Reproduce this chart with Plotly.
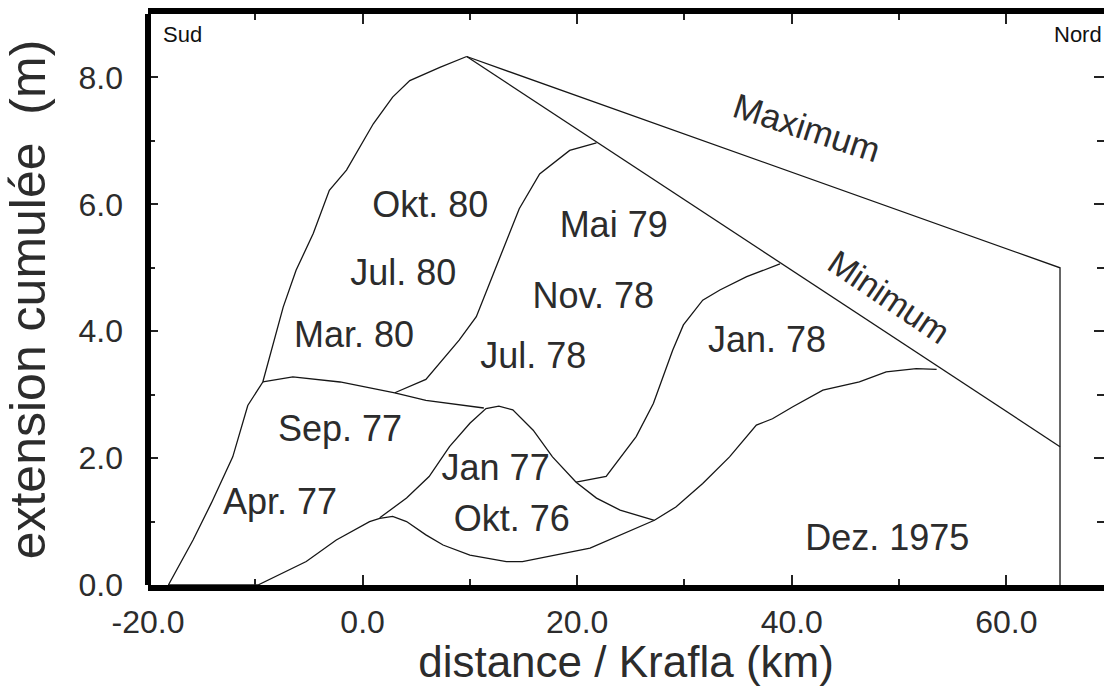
import plotly.graph_objects as go

# Cumulative rifting extension along the Krafla fissure swarm (m) versus distance (km)
env_x = [-18.1, -15.8, -14.1, -12.1, -10.7, -9.3, -7.4, -6.2, -4.6, -3.1, -1.5, 1.0, 2.8, 4.4, 7.2, 9.7]
env_y = [0.0, 0.71, 1.29, 2.02, 2.83, 3.20, 4.38, 4.96, 5.54, 6.22, 6.54, 7.27, 7.69, 7.95, 8.16, 8.33]

sep77_x = [-9.3, -6.5, -2.1, 3.0, 5.9, 11.3]
sep77_y = [3.20, 3.28, 3.20, 3.03, 2.91, 2.79]

jul78_x = [3.0, 5.9, 9.0, 10.6, 12.2, 13.4, 14.6, 16.5, 19.3, 21.8]
jul78_y = [3.03, 3.24, 3.86, 4.23, 4.91, 5.43, 5.93, 6.48, 6.85, 6.97]

jan78_x = [19.9, 22.7, 25.5, 27.1, 28.9, 29.9, 31.7, 33.3, 35.8, 38.9]
jan78_y = [1.62, 1.71, 2.34, 2.86, 3.70, 4.10, 4.49, 4.65, 4.86, 5.06]

jan77_x = [1.6, 4.1, 6.2, 8.1, 10.0, 11.5, 12.7, 14.0, 15.9, 17.7, 19.9, 21.8, 24.0, 27.2]
jan77_y = [1.06, 1.37, 1.71, 2.18, 2.55, 2.78, 2.82, 2.76, 2.44, 2.02, 1.62, 1.37, 1.18, 1.02]

okt76_x = [-9.75, -5.25, -2.45, 0.65, 1.6, 2.8, 4.1, 5.9, 7.5, 10.0, 13.4, 14.9, 21.2, 24.3,
           27.2, 29.2, 31.7, 34.2, 36.7, 38.2, 40.1, 42.9, 46.3, 48.8, 51.6, 53.5]
okt76_y = [0.0, 0.37, 0.71, 1.00, 1.05, 1.08, 1.00, 0.79, 0.63, 0.47, 0.37, 0.37, 0.58, 0.81,
           1.02, 1.23, 1.60, 2.02, 2.52, 2.62, 2.81, 3.07, 3.20, 3.36, 3.41, 3.40]

base_x = [-18.1, -9.75]
base_y = [0.0, 0.0]

max_x = [9.7, 65.0, 65.0]
max_y = [8.33, 5.0, 0.0]

min_x = [9.7, 65.0]
min_y = [8.33, 2.18]

# Period labels placed inside each region
region_text = ["Okt. 80", "Jul. 80", "Mar. 80", "Sep. 77", "Apr. 77", "Jan 77", "Okt. 76",
               "Jul. 78", "Nov. 78", "Mai 79", "Jan. 78", "Dez. 1975"]
region_x = [6.3, 3.8, -0.8, -2.1, -7.7, 12.4, 13.9, 15.9, 21.5, 23.4, 37.7, 48.9]
region_y = [5.95, 4.87, 3.89, 2.41, 1.26, 1.80, 1.00, 3.57, 4.51, 5.62, 3.81, 0.70]

x_ticks = [-20, 0, 20, 40, 60]
x_tick_text = ["-20.0", "0.0", "20.0", "40.0", "60.0"]
y_ticks = [0, 2, 4, 6, 8]
y_tick_text = ["0.0", "2.0", "4.0", "6.0", "8.0"]

FONT = "Liberation Sans, Arial, Helvetica, sans-serif"
TXT = "#2c2c2c"
LINE = dict(color="#161616", width=1.3)

fig = go.Figure()
for xs, ys in [(env_x, env_y), (sep77_x, sep77_y), (jul78_x, jul78_y), (jan78_x, jan78_y),
               (jan77_x, jan77_y), (okt76_x, okt76_y), (base_x, base_y),
               (max_x, max_y), (min_x, min_y)]:
    fig.add_trace(go.Scatter(x=xs, y=ys, mode="lines", line=LINE, hoverinfo="skip",
                             showlegend=False))

fig.add_trace(go.Scatter(x=region_x, y=region_y, mode="text", text=region_text,
                         textfont=dict(family=FONT, size=36, color=TXT),
                         textposition="middle center", showlegend=False, hoverinfo="skip"))

fig.add_annotation(x=41.4, y=7.21, text="Maximum", showarrow=False, textangle=18,
                   font=dict(family=FONT, size=35, color=TXT))
fig.add_annotation(x=49.1, y=4.54, text="Minimum", showarrow=False, textangle=34,
                   font=dict(family=FONT, size=34, color=TXT))
fig.add_annotation(x=-16.8, y=8.68, text="Sud", showarrow=False,
                   font=dict(family=FONT, size=22, color="#111"))
fig.add_annotation(xref="paper", x=1.0, xanchor="right", y=8.68, text="Nord", showarrow=False,
                   font=dict(family=FONT, size=22, color="#111"))

# left frame edge (right edge lies outside the visible area)
fig.add_shape(type="line", xref="paper", yref="paper", x0=0, x1=0, y0=0, y1=1,
              line=dict(color="#000", width=6))

fig.update_layout(
    width=1104, height=686,
    margin=dict(l=148, r=0, t=14, b=101),
    paper_bgcolor="white", plot_bgcolor="white",
    font=dict(family=FONT, color=TXT),
    xaxis=dict(range=[-20, 69.1], showgrid=False, zeroline=False,
               showline=True, linecolor="#000", linewidth=6, mirror="ticks",
               tickmode="array", tickvals=x_ticks, ticktext=x_tick_text,
               ticks="inside", ticklen=10, tickwidth=1.5, tickcolor="#222",
               tickfont=dict(family=FONT, size=32, color=TXT), ticklabelstandoff=4,
               minor=dict(dtick=10, tick0=-20, ticks="inside", ticklen=6, tickwidth=1.5,
                          tickcolor="#222", showgrid=False),
               title=dict(text="distance / Krafla (km)", standoff=6,
                          font=dict(family=FONT, size=44, color=TXT))),
    yaxis=dict(range=[0, 9], showgrid=False, zeroline=False,
               showline=False, mirror="ticks",
               tickmode="array", tickvals=y_ticks, ticktext=y_tick_text,
               ticks="inside", ticklen=10, tickwidth=1.5, tickcolor="#222",
               tickfont=dict(family=FONT, size=32, color=TXT), ticklabelstandoff=24,
               minor=dict(dtick=1, tick0=0, ticks="inside", ticklen=7, tickwidth=1.5,
                          tickcolor="#222", showgrid=False),
               title=dict(text="extension cumulée  (m)", standoff=26,
                          font=dict(family=FONT, size=50, color=TXT))),
)

fig.write_html("out.html")
